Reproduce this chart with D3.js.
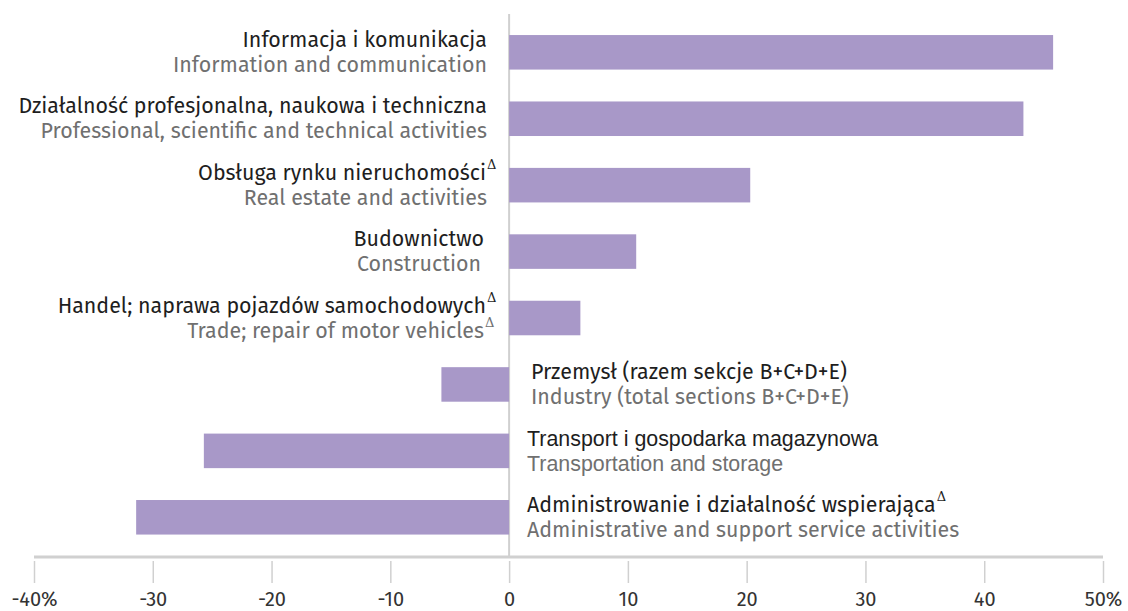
<!DOCTYPE html>
<html lang="pl">
<head>
    <meta charset="UTF-8">
    <title>Zmiana wg sekcji</title>
    <script src="https://d3js.org/d3.v7.min.js"></script>
    <style>
        body { margin: 0; background: #fff; }
        svg { display: block; }
        .pl { fill: #1e1e1e; }
        .en { fill: #707070; }
        .tick text { fill: #333; }
    </style>
</head>
<body>
    <div id="chart"></div>
    <script>
        const width = 1128;
        const height = 611;

        // Sections (Polish / English), change in %
        const labelsPl = [
            "Informacja i komunikacja",
            "Działalność profesjonalna, naukowa i techniczna",
            "Obsługa rynku nieruchomości",
            "Budownictwo",
            "Handel; naprawa pojazdów samochodowych",
            "Przemysł (razem sekcje B+C+D+E)",
            "Transport i gospodarka magazynowa",
            "Administrowanie i działalność wspierająca"
        ];
        const labelsEn = [
            "Information and communication",
            "Professional, scientific and technical activities",
            "Real estate and activities",
            "Construction",
            "Trade; repair of motor vehicles",
            "Industry (total sections B+C+D+E)",
            "Transportation and storage",
            "Administrative and support service activities"
        ];
        const values = [45.8, 43.3, 20.3, 10.7, 6.0, -5.7, -25.7, -31.4];
        // which labels carry the delta mark
        const deltaPl = [false, false, true, false, true, false, false, true];
        const deltaEn = [false, false, false, false, true, false, false, false];
        const tickValues = [-40, -30, -20, -10, 0, 10, 20, 30, 40, 50];

        const font = "'Fira Sans', 'Open Sans', sans-serif";
        const arialLike = new Set([6]); // these labels were set in an Arial-like face

        const svg = d3.select("#chart").append("svg")
            .attr("width", width)
            .attr("height", height);

        const x = d3.scaleLinear().domain([-40, 50]).range([34, 1103]);
        const y = d3.scaleBand()
            .domain(d3.range(values.length))
            .range([19.1, 550.5])
            .paddingInner(0.48)
            .paddingOuter(0.24);

        // zero line
        svg.append("line")
            .attr("x1", x(0)).attr("x2", x(0))
            .attr("y1", 14).attr("y2", 557)
            .attr("stroke", "#d0d0d0")
            .attr("stroke-width", 2);

        // bars
        svg.append("g")
            .selectAll("rect")
            .data(values)
            .join("rect")
            .attr("x", d => x(Math.min(0, d)))
            .attr("width", d => Math.abs(x(d) - x(0)))
            .attr("y", (d, i) => y(i))
            .attr("height", y.bandwidth())
            .attr("fill", "#a898c8");

        // axis
        const axis = svg.append("g")
            .attr("transform", "translate(0,557)")
            .call(d3.axisBottom(x)
                .tickValues(tickValues)
                .tickSize(26)
                .tickPadding(9)
                .tickFormat((d, i) => (i === 0 || i === tickValues.length - 1) ? d + "%" : d));
        axis.select(".domain")
            .attr("stroke", "#d0d0d0")
            .attr("stroke-width", 3)
            .attr("d", `M${x(-40)},0H${x(50)}`);
        axis.selectAll(".tick line")
            .attr("stroke", "#d0d0d0")
            .attr("stroke-width", 1.5)
            .attr("y1", 4);
        axis.selectAll(".tick text")
            .style("font-family", font)
            .style("font-size", "20px");

        // category labels
        const fs = "21.4px";
        const labels = svg.append("g");
        values.forEach((v, i) => {
            const top = y(i);
            const left = v >= 0;
            const ax = left ? 487 : 527;
            const anchor = left ? "end" : "start";
            const fam = arialLike.has(i) ? "'Liberation Sans', Arial, sans-serif" : font;
            const endPl = left && deltaPl[i] ? ax - 1 : ax;
            const endEn = left && deltaEn[i] ? ax - 3 : (i === 3 ? ax - 6 : ax);

            const tPl = labels.append("text")
                .attr("class", "pl")
                .attr("x", left ? (i === 3 ? ax - 3 : endPl) : ax + (i === 5 ? 4 : 0))
                .attr("y", top + 12)
                .attr("text-anchor", anchor)
                .style("font-family", fam)
                .style("font-size", fs)
                .text(labelsPl[i]);

            const tEn = labels.append("text")
                .attr("class", "en")
                .attr("x", left ? endEn : ax + (i === 5 ? 4 : 0))
                .attr("y", top + 37)
                .attr("text-anchor", anchor)
                .style("font-family", fam)
                .style("font-size", fs)
                .text(labelsEn[i]);

            if (deltaPl[i]) {
                const bb = tPl.node().getBBox();
                labels.append("text")
                    .attr("x", bb.x + bb.width + 1)
                    .attr("y", top + 1)
                    .style("font-family", "'DejaVu Serif', serif")
                    .style("font-size", "13px")
                    .attr("fill", "#1e1e1e")
                    .text("Δ");
            }
            if (deltaEn[i]) {
                const bb = tEn.node().getBBox();
                labels.append("text")
                    .attr("x", bb.x + bb.width + 1)
                    .attr("y", top + 26)
                    .style("font-family", "'DejaVu Serif', serif")
                    .style("font-size", "13px")
                    .attr("fill", "#707070")
                    .text("Δ");
            }
        });
    </script>
</body>
</html>
